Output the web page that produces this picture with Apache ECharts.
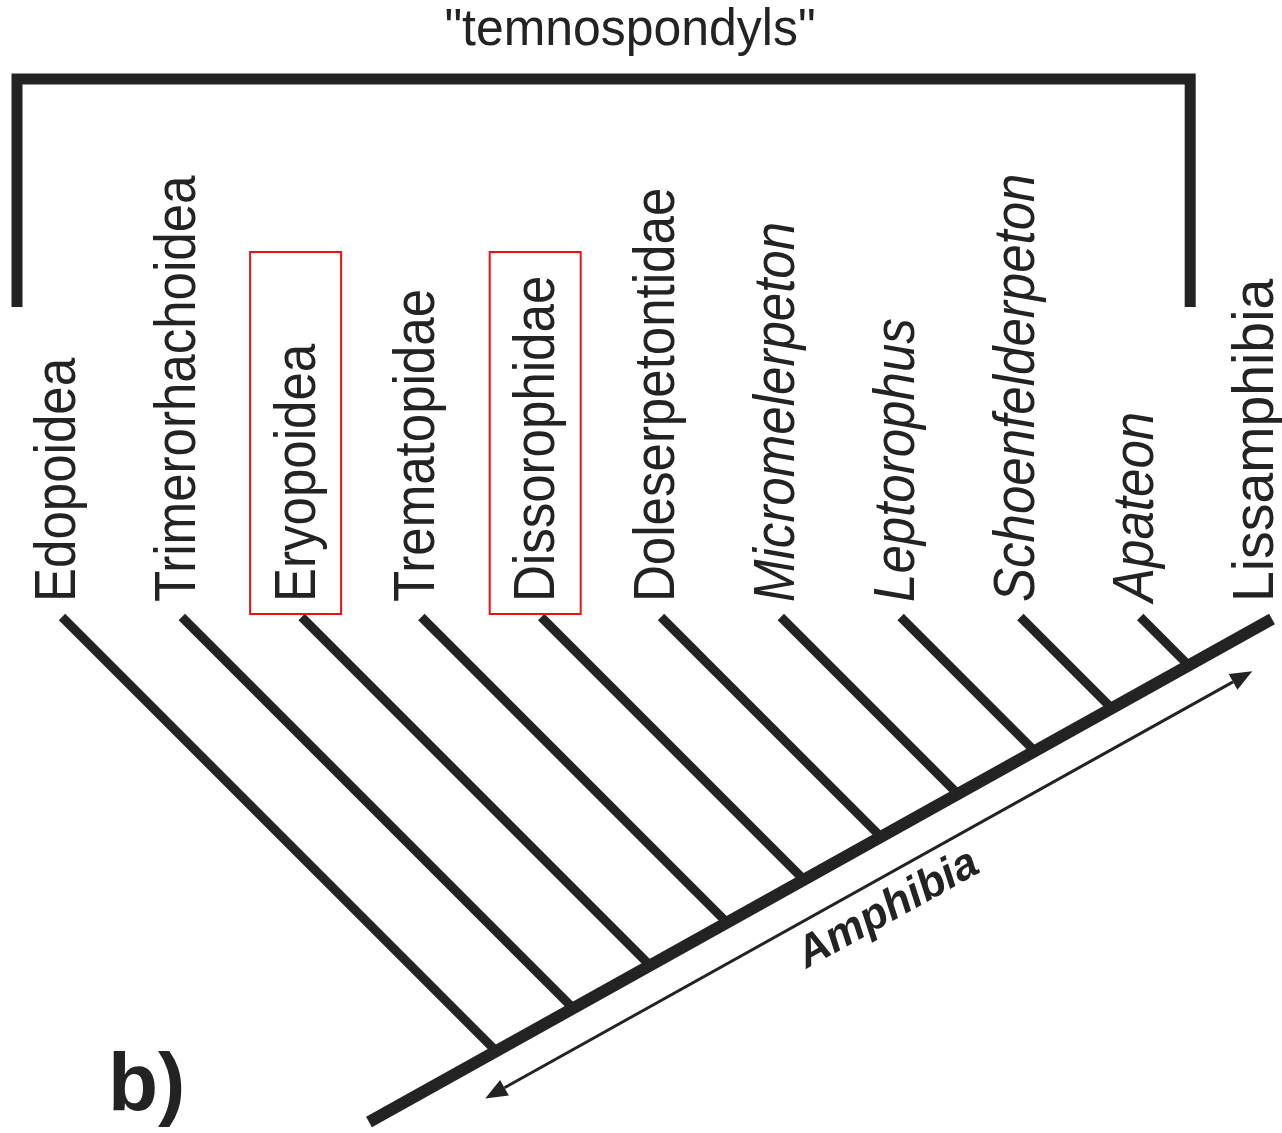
<!DOCTYPE html>
<html>
<head>
<meta charset="utf-8">
<script src="https://cdn.jsdelivr.net/npm/echarts@6/dist/echarts.min.js"></script>
<style>
html,body{margin:0;padding:0;background:#ffffff;}
#chart{width:1282px;height:1133px;}
</style>
</head>
<body>
<div id="chart"></div>
<script>
// ---------------- DATA ----------------
// Taxa in ladder (pectinate) order: each one branches off the main stem in turn.
const taxa = ['Edopoidea', 'Trimerorhachoidea', 'Eryopoidea', 'Trematopidae', 'Dissorophidae',
  'Doleserpetontidae', 'Micromelerpeton', 'Leptorophus', 'Schoenfelderpeton', 'Apateon', 'Lissamphibia'];
const italicTaxa = ['Micromelerpeton', 'Leptorophus', 'Schoenfelderpeton', 'Apateon'];
const crownTaxa = ['Lissamphibia'];
const boxedTaxa = ['Eryopoidea', 'Dissorophidae'];
const cladeName = '"temnospondyls"';
const cladeMembers = ['Edopoidea', 'Trimerorhachoidea', 'Eryopoidea', 'Trematopidae', 'Dissorophidae',
  'Doleserpetontidae', 'Micromelerpeton', 'Leptorophus', 'Schoenfelderpeton', 'Apateon'];
const stemGroupName = 'Amphibia';
const panelLabel = 'b)';

// ---------------- LAYOUT ----------------
const W = 1282, H = 1133;
const LAY = {
  tipX0: 62, tipStep: 119.8, tipY: 617,
  root: [369, 1122], crown: [1272, 619],
  branchWidth: 9, spineWidth: 12,
  labelStartY: 602, labelDx: -3, labelFont: 58, labelScale: 0.88, crownScale: 0.955,
  boxHalf: 45.5, boxTop: 252, boxBottom: 614, boxDx: -6,
  bracketTop: 79, bracketBottom: 307, bracketPadL: 45, bracketPadR: 50, bracketWidth: 11,
  titleX: 630, titleY: 31, titleFont: 52, titleScale: 0.96,
  arrowT0: 113, arrowT1: 991, arrowOff: 36, arrowWidth: 3, headLen: 22, headHalf: 9,
  amphT: 557, amphOff: 67, amphFont: 44, amphScale: 1.0,
  panelX: 108, panelY: 1087, panelFont: 82
};
const INK = '#232323';
const FONT = '"Liberation Sans", Arial, Helvetica, sans-serif';

const slope = (LAY.crown[1] - LAY.root[1]) / (LAY.crown[0] - LAY.root[0]);
const spineLen = Math.hypot(LAY.crown[0] - LAY.root[0], LAY.crown[1] - LAY.root[1]);
const ux = (LAY.crown[0] - LAY.root[0]) / spineLen, uy = (LAY.crown[1] - LAY.root[1]) / spineLen;
const nx = -uy, ny = ux; // normal pointing down-right
function tipX(i) { return LAY.tipX0 + LAY.tipStep * i; }
function nodeOf(i) {
  // 45° branch from the tip meets the stem line
  const tx = tipX(i), ty = LAY.tipY;
  const x = (LAY.root[1] - slope * LAY.root[0] - ty + tx) / (1 - slope);
  return [x, ty + (x - tx)];
}
function along(t, off) {
  return [LAY.root[0] + ux * t + nx * off, LAY.root[1] + uy * t + ny * off];
}

const chart = echarts.init(document.getElementById('chart'), null, { renderer: 'canvas' });

function pt(api, p) { return api.coord(p); }

const taxonSeries = {
  type: 'custom', name: 'taxa', clip: false, silent: true,
  data: taxa.map((name, i) => [i, name]),
  renderItem: function (params, api) {
    const i = api.value(0);
    const name = taxa[i];
    const children = [];
    const tx = tipX(i);
    const isLast = i === taxa.length - 1;
    if (!isLast) {
      const a = pt(api, [tx, LAY.tipY]);
      const b = pt(api, nodeOf(i));
      children.push({ type: 'line', shape: { x1: a[0], y1: a[1], x2: b[0], y2: b[1] },
        style: { stroke: INK, lineWidth: LAY.branchWidth, lineCap: 'butt' } });
    }
    const lp = pt(api, [tx + LAY.labelDx, LAY.labelStartY]);
    const isCrown = crownTaxa.indexOf(name) >= 0;
    children.push({ type: 'text', x: lp[0], y: lp[1], rotation: Math.PI / 2,
      scaleX: isCrown ? LAY.crownScale : LAY.labelScale, scaleY: 1,
      style: { text: name, fill: INK, fontFamily: FONT, fontSize: LAY.labelFont,
        fontStyle: italicTaxa.indexOf(name) >= 0 ? 'italic' : 'normal',
        fontWeight: 'normal',
        align: 'left', verticalAlign: 'middle' } });
    if (boxedTaxa.indexOf(name) >= 0) {
      const p1 = pt(api, [tx + LAY.boxDx - LAY.boxHalf, LAY.boxTop]);
      const p2 = pt(api, [tx + LAY.boxDx + LAY.boxHalf, LAY.boxBottom]);
      children.push({ type: 'rect', shape: { x: p1[0], y: p1[1], width: p2[0] - p1[0], height: p2[1] - p1[1] },
        style: { fill: 'none', stroke: '#ee1111', lineWidth: 2 } });
    }
    return { type: 'group', children: children };
  }
};

const spineSeries = {
  type: 'custom', name: 'stem', clip: false, silent: true, data: [[0]],
  renderItem: function (params, api) {
    const a = pt(api, LAY.root), b = pt(api, LAY.crown);
    return { type: 'line', shape: { x1: a[0], y1: a[1], x2: b[0], y2: b[1] },
      style: { stroke: INK, lineWidth: LAY.spineWidth, lineCap: 'butt' } };
  }
};

const arrowSeries = {
  type: 'custom', name: 'Amphibia', clip: false, silent: true, data: [[0, stemGroupName]],
  renderItem: function (params, api) {
    const s = pt(api, along(LAY.arrowT0, LAY.arrowOff));
    const e = pt(api, along(LAY.arrowT1, LAY.arrowOff));
    const h = LAY.headLen, w = LAY.headHalf;
    const s2 = pt(api, along(LAY.arrowT0 + h, LAY.arrowOff));
    const e2 = pt(api, along(LAY.arrowT1 - h, LAY.arrowOff));
    function head(tip, base) {
      return [tip, [base[0] + nx * w, base[1] + ny * w], [base[0] - nx * w, base[1] - ny * w]];
    }
    const c = pt(api, along(LAY.amphT, LAY.amphOff));
    return { type: 'group', children: [
      { type: 'line', shape: { x1: s2[0], y1: s2[1], x2: e2[0], y2: e2[1] },
        style: { stroke: INK, lineWidth: LAY.arrowWidth } },
      { type: 'polygon', shape: { points: head(s, s2) }, style: { fill: INK } },
      { type: 'polygon', shape: { points: head(e, e2) }, style: { fill: INK } },
      { type: 'text', x: c[0], y: c[1], rotation: Math.atan2(-uy, ux), scaleX: LAY.amphScale,
        style: { text: stemGroupName, fill: INK, fontFamily: FONT, fontSize: LAY.amphFont,
          fontStyle: 'italic', fontWeight: 'bold', align: 'center', verticalAlign: 'middle' } }
    ] };
  }
};

const bracketSeries = {
  type: 'custom', name: 'temnospondyls', clip: false, silent: true, data: [[0, cladeName]],
  renderItem: function (params, api) {
    const i0 = taxa.indexOf(cladeMembers[0]);
    const i1 = taxa.indexOf(cladeMembers[cladeMembers.length - 1]);
    const xl = tipX(i0) - LAY.bracketPadL, xr = tipX(i1) + LAY.bracketPadR;
    const pts = [[xl, LAY.bracketBottom], [xl, LAY.bracketTop], [xr, LAY.bracketTop], [xr, LAY.bracketBottom]]
      .map(p => pt(api, p));
    const tp = pt(api, [LAY.titleX, LAY.titleY]);
    return { type: 'group', children: [
      { type: 'polyline', shape: { points: pts },
        style: { stroke: INK, lineWidth: LAY.bracketWidth, lineJoin: 'miter', lineCap: 'butt', fill: 'none' } },
      { type: 'text', x: tp[0], y: tp[1], scaleX: LAY.titleScale,
        style: { text: cladeName, fill: INK, fontFamily: FONT, fontSize: LAY.titleFont,
          align: 'center', verticalAlign: 'middle' } }
    ] };
  }
};

const panelSeries = {
  type: 'custom', name: 'panel', clip: false, silent: true, data: [[0, panelLabel]],
  renderItem: function (params, api) {
    const p = pt(api, [LAY.panelX, LAY.panelY]);
    return { type: 'text', x: p[0], y: p[1],
      style: { text: panelLabel, fill: INK, fontFamily: FONT, fontSize: LAY.panelFont, fontWeight: 'bold',
        align: 'left', verticalAlign: 'middle' } };
  }
};

chart.setOption({
  animation: false,
  backgroundColor: '#ffffff',
  grid: { left: 0, right: 0, top: 0, bottom: 0 },
  xAxis: { type: 'value', min: 0, max: W, show: false },
  yAxis: { type: 'value', min: 0, max: H, inverse: true, show: false },
  series: [bracketSeries, spineSeries, taxonSeries, arrowSeries, panelSeries]
});
</script>
</body>
</html>
